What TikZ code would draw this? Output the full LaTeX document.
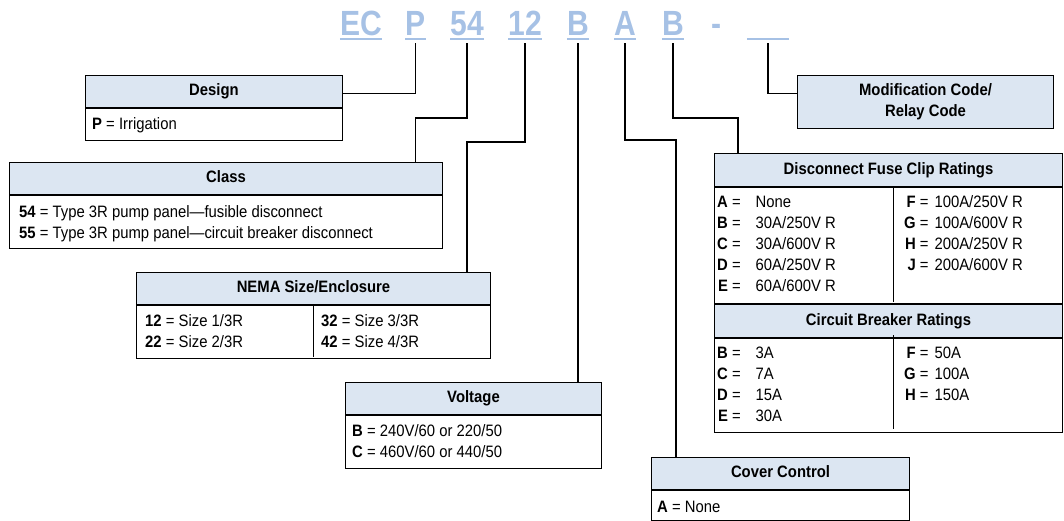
\documentclass[tikz,border=0pt]{standalone}
\usepackage{fontspec}
\setmainfont{Liberation Sans}[FakeStretch=0.9]
\newfontfamily\codefont{Liberation Sans}[FakeStretch=0.86]
\usepackage{tikz}
\usetikzlibrary{positioning}
\definecolor{hdrblue}{RGB}{220,230,242}
\definecolor{codeblue}{RGB}{166,193,229}
\tikzstyle{hdr} = [draw,fill=hdrblue,line width=1pt,inner sep=0pt,font=\fontsize{16.5}{19}\selectfont\bfseries,text height=12pt,text depth=3.5pt]
\tikzstyle{modbox} = [draw,fill=hdrblue,line width=1pt,inner sep=0pt,align=center,font=\fontsize{16.5}{21}\selectfont\bfseries]
\tikzstyle{bodybox} = [draw,line width=1pt,inner sep=0pt]
\tikzstyle{txt} = [inner sep=0pt,anchor=base west,font=\fontsize{16.5}{21}\selectfont]
\tikzstyle{code} = [inner sep=0pt,anchor=base,text=codeblue,font=\codefont\fontsize{35}{35}\selectfont\bfseries]
\tikzstyle{uline} = [draw=codeblue,line width=2pt]
\tikzstyle{link} = [line width=1.6pt]

\begin{document}
\begin{tikzpicture}[x=1pt,y=-1pt]
\useasboundingbox (0,0) rectangle (1064,520);

% catalog number
\node[code] (cEC) at (361,35) {EC};
\node[code] (cP) at (415.5,35) {P};
\node[code] (c54) at (467,35) {54};
\node[code] (c12) at (525,35) {12};
\node[code] (cB) at (578,35) {B};
\node[code] (cA) at (625,35) {A};
\node[code] (cBB) at (673,35) {B};
\node[code] (cdash) at (716,35) {-};
\node[code,minimum width=42] (cX) at (768,35) {};
\foreach \c in {cEC,cP,c54,c12,cB,cA,cBB,cX}
  \draw[uline] ([yshift=-4pt]\c.base west) -- ([yshift=-4pt]\c.base east);

% Design
\node[hdr,minimum width=257,minimum height=32,anchor=north west] (design) at (85,75) {Design};
\node[bodybox,minimum width=257,minimum height=32,below=0pt of design] (designbody) {};
\node[txt] (designtxt) at (92,129.5) {\textbf{P} = Irrigation};

% Class
\node[hdr,minimum width=433,minimum height=32,anchor=north west] (class) at (9,162) {Class};
\node[bodybox,minimum width=433,minimum height=53,below=0pt of class] (classbody) {};
\node[txt] (classtxt) at (19,217.5) {\begin{tabular}[t]{@{}l@{}}
  \textbf{54} = Type 3R pump panel---fusible disconnect\\
  \textbf{55} = Type 3R pump panel---circuit breaker disconnect\end{tabular}};

% NEMA size
\node[hdr,minimum width=354,minimum height=32,anchor=north west] (nema) at (136,272) {NEMA Size/Enclosure};
\node[bodybox,minimum width=354,minimum height=53,below=0pt of nema] (nemabody) {};
\draw[line width=1pt] (313,304) -- (313,357);
\node[txt] (nemaL) at (145,326.5) {\begin{tabular}[t]{@{}l@{}}
  \textbf{12} = Size 1/3R\\ \textbf{22} = Size 2/3R\end{tabular}};
\node[txt] (nemaR) at (321,326.5) {\begin{tabular}[t]{@{}l@{}}
  \textbf{32} = Size 3/3R\\ \textbf{42} = Size 4/3R\end{tabular}};

% Voltage
\node[hdr,minimum width=256,minimum height=32,anchor=north west] (volt) at (345,382) {Voltage};
\node[bodybox,minimum width=256,minimum height=53,below=0pt of volt] (voltbody) {};
\node[txt] (volttxt) at (352,436.5) {\begin{tabular}[t]{@{}l@{}}
  \textbf{B} = 240V/60 or 220/50\\ \textbf{C} = 460V/60 or 440/50\end{tabular}};

% Cover control
\node[hdr,minimum width=258,minimum height=32,anchor=north west] (cover) at (651,457) {Cover Control};
\node[bodybox,minimum width=258,minimum height=30,below=0pt of cover] (coverbody) {};
\node[txt] (covertxt) at (657,512.5) {\textbf{A} = None};

% Modification code
\node[modbox,minimum width=256,minimum height=53,anchor=north west] (mod) at (797,75) {Modification Code/\\Relay Code};

% Disconnect fuse clip / circuit breaker
\node[hdr,minimum width=348,minimum height=33,anchor=north west] (fuse) at (714,153) {Disconnect Fuse Clip Ratings};
\node[bodybox,minimum width=348,minimum height=116,below=0pt of fuse] (fusebody) {};
\node[hdr,minimum width=348,minimum height=33,below=0pt of fusebody] (cb) {Circuit Breaker Ratings};
\node[bodybox,minimum width=348,minimum height=94,below=0pt of cb] (cbbody) {};
\draw[line width=1pt] (893,186) -- (893,302);
\draw[line width=1pt] (893,335) -- (893,429);
\node[txt] (fuseL) at (717,207.5) {\begin{tabular}[t]{@{}r@{\ =\hspace{15pt}}l@{}}
  \textbf{A} & None\\ \textbf{B} & 30A/250V R\\ \textbf{C} & 30A/600V R\\
  \textbf{D} & 60A/250V R\\ \textbf{E} & 60A/600V R\end{tabular}};
\node[txt] (fuseR) at (904,207.5) {\begin{tabular}[t]{@{}r@{\ =\hspace{6pt}}l@{}}
  \textbf{F} & 100A/250V R\\ \textbf{G} & 100A/600V R\\ \textbf{H} & 200A/250V R\\
  \textbf{J} & 200A/600V R\end{tabular}};
\node[txt] (cbL) at (717,358.5) {\begin{tabular}[t]{@{}r@{\ =\hspace{15pt}}l@{}}
  \textbf{B} & 3A\\ \textbf{C} & 7A\\ \textbf{D} & 15A\\ \textbf{E} & 30A\end{tabular}};
\node[txt] (cbR) at (904,358.5) {\begin{tabular}[t]{@{}r@{\ =\hspace{6pt}}l@{}}
  \textbf{F} & 50A\\ \textbf{G} & 100A\\ \textbf{H} & 150A\end{tabular}};

% connectors
\draw[link] ([yshift=-8pt]cP.base) |- ([yshift=-2pt]design.east);
\draw[link] ([yshift=-8pt]c54.base) -- ++(0,75) -| (class.north -| cP.base);
\draw[link] ([yshift=-8pt]c12.base) -- ++(0,99) -| (nema.north -| c54.base);
\draw[link] ([yshift=-8pt]cB.base) -- (volt.north -| cB.base);
\draw[link] ([yshift=-8pt]cA.base) -- ++(0,97) -| ([xshift=25pt]cover.north west);
\draw[link] ([yshift=-8pt]cBB.base) -- ++(0,75) -| ([xshift=24pt]fuse.north west);
\draw[link] ([yshift=-8pt]cX.base) |- ([yshift=8.5pt]mod.west);

\end{tikzpicture}
\end{document}
